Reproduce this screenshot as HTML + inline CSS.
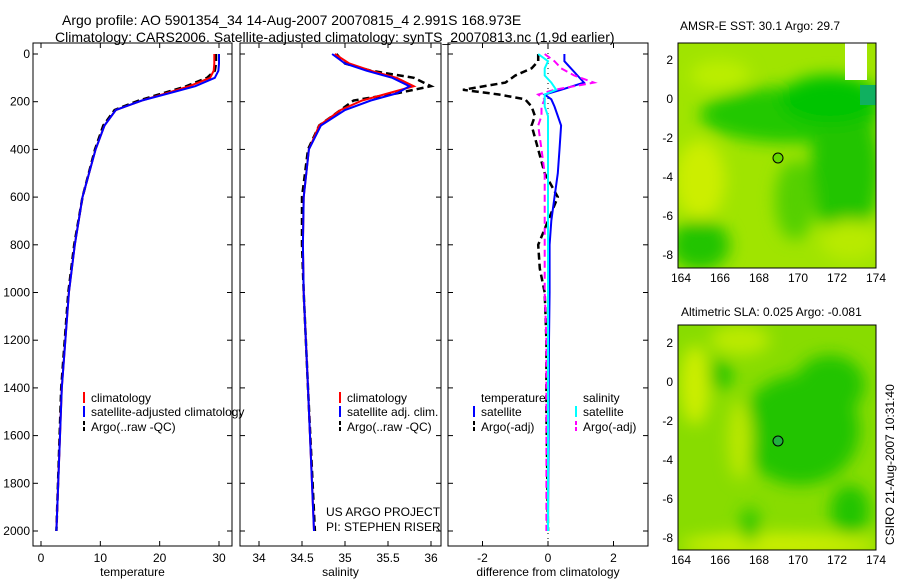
<!DOCTYPE html>
<html><head><meta charset="utf-8"><style>
body{margin:0;background:#fff;font-family:"Liberation Sans",sans-serif;}
svg text{font-family:"Liberation Sans",sans-serif;font-size:12px;fill:#000}
</style></head><body>
<svg id="s" width="900" height="580" xmlns="http://www.w3.org/2000/svg">
<defs>
<filter id="bl" x="-50%" y="-50%" width="200%" height="200%"><feGaussianBlur stdDeviation="8"/></filter>
<clipPath id="c1"><rect x="678" y="43" width="198" height="225"/></clipPath>
<clipPath id="c2"><rect x="678" y="325" width="198" height="225"/></clipPath>
</defs>
<text x="62" y="25" style="font-size:14px">Argo profile: AO 5901354_34 14-Aug-2007 20070815_4 2.991S 168.973E</text>
<text x="55" y="42" style="font-size:14px">Climatology: CARS2006. Satellite-adjusted climatology: synTS_20070813.nc (1.9d earlier)</text>
<g id="g"></g>
<g clip-path="url(#c1)">
<rect x="678" y="43" width="198" height="225" fill="#a0e400"/>
<g filter="url(#bl)">
<ellipse cx="790" cy="115" rx="90" ry="28" fill="#22c800"/>
<ellipse cx="845" cy="170" rx="35" ry="70" fill="#22c400"/>
<ellipse cx="830" cy="100" rx="50" ry="25" fill="#00c400"/>
<ellipse cx="700" cy="245" rx="30" ry="25" fill="#22c400"/>
<ellipse cx="795" cy="200" rx="20" ry="40" fill="#55d000"/>
<ellipse cx="700" cy="180" rx="25" ry="40" fill="#ccee00"/>
<ellipse cx="720" cy="75" rx="30" ry="15" fill="#bbee00"/>
<ellipse cx="850" cy="240" rx="30" ry="20" fill="#b8ea00"/>
</g>
<rect x="845" y="43" width="22" height="37" fill="#fff"/>
<rect x="860" y="85" width="16" height="20" fill="#10b060"/>
</g>
<circle cx="778" cy="158" r="5" fill="#66d800" stroke="#000"/>
<rect x="678" y="43" width="198" height="225" fill="none" stroke="#000"/>
<text x="680" y="30">AMSR-E SST: 30.1  Argo: 29.7</text>
<g clip-path="url(#c2)">
<rect x="678" y="325" width="198" height="225" fill="#88dc00"/>
<g filter="url(#bl)">
<ellipse cx="800" cy="430" rx="60" ry="55" fill="#22c400"/>
<ellipse cx="830" cy="385" rx="35" ry="30" fill="#22c400"/>
<ellipse cx="850" cy="510" rx="20" ry="25" fill="#22c400"/>
<ellipse cx="720" cy="375" rx="12" ry="15" fill="#22c400"/>
<ellipse cx="695" cy="385" rx="15" ry="40" fill="#ccee00"/>
<ellipse cx="740" cy="440" rx="12" ry="40" fill="#bbe800"/>
<ellipse cx="780" cy="545" rx="100" ry="12" fill="#ccee00"/>
<ellipse cx="740" cy="340" rx="30" ry="15" fill="#bbea00"/>
<ellipse cx="750" cy="525" rx="10" ry="18" fill="#33c800"/>
</g>
</g>
<circle cx="778" cy="441" r="5" fill="#22b040" stroke="#000"/>
<rect x="678" y="325" width="198" height="225" fill="none" stroke="#000"/>
<text x="681" y="316">Altimetric SLA: 0.025  Argo: -0.081</text>
<text transform="translate(894,545) rotate(-90)">CSIRO 21-Aug-2007 10:31:40</text>
<text x="326" y="516">US ARGO PROJECT</text>
<text x="326" y="531">PI: STEPHEN RISER</text>
</svg>
<script>
const depths=[0,40,70,100,135,165,195,235,300,400,600,800,1000,1400,2000];
const tempClim=[29.2,29.2,29.1,28.5,25,21,17,12.6,10.7,9.2,7,5.7,4.7,3.5,2.6];
const tempSat=[30,30,29.9,29.3,26,21.5,17,12.6,10.7,9.2,7,5.7,4.7,3.5,2.6];
const tempArgo=[29.5,29.5,29.3,28,24.5,20.5,16.5,12.4,10.5,9.1,7,5.6,4.6,3.4,2.6];
const salClim=[34.88,35.05,35.3,35.6,35.8,35.5,35.2,34.95,34.7,34.58,34.52,34.51,34.52,34.57,34.64];
const salSat=[34.85,35.0,35.25,35.55,35.75,35.6,35.3,35.0,34.72,34.58,34.52,34.51,34.52,34.57,34.64];
const salArgo=[34.9,35.0,35.3,35.8,36.0,35.6,35.1,34.95,34.7,34.57,34.5,34.5,34.52,34.57,34.65];
const dDepths=[0,30,60,90,120,150,170,190,220,260,300,400,500,600,700,800,900,1000,1200,1500,2000];
const dTempSat=[0.5,0.5,0.7,0.9,1.1,0.4,-0.1,0.1,0.2,0.3,0.4,0.35,0.3,0.2,0.1,0.05,0.05,0.05,0.03,0.02,0.0];
const dTempArgo=[-0.3,-0.3,-0.5,-1,-1.3,-2.6,-1.5,-0.7,-0.5,-0.4,-0.5,-0.3,-0.1,0.3,0,-0.3,-0.25,-0.1,-0.05,-0.05,0];
const dSalSat=[-0.3,0,-0.1,-0.1,0.1,0.25,-0.1,-0.1,-0.1,0,0,0,0,0,0,0,0,0,0,0,0];
const dSalArgo=[-0.1,0.2,0.4,0.8,1.4,0.2,-0.3,-0.1,-0.2,-0.2,-0.3,-0.2,-0.1,-0.1,-0.1,-0.1,-0.1,-0.1,-0.05,-0.05,-0.05];
const yTicks=[0,200,400,600,800,1000,1200,1400,1600,1800,2000];
const tTicks=[0,10,20,30], sTicks=[34,34.5,35,35.5,36], dTicks=[-2,0,2];
const sTickLabels=["34","34.5","35","35.5","36"];
const mapX=[164,166,168,170,172,174], mapY=[2,0,-2,-4,-6,-8];
const NS="http://www.w3.org/2000/svg", G=document.getElementById('g');
const Y=d=>54+d*(531-54)/2000;
function el(t,a,p){const e=document.createElementNS(NS,t);for(const k in a)e.setAttribute(k,a[k]);(p||G).appendChild(e);return e;}
function txt(x,y,s,anchor,name){const e=el('text',{x:x,y:y,'text-anchor':anchor||'start'});e.textContent=s;

return e;}
function line(xs,ys,X,col,dash,w,name){const p=el('polyline',{points:xs.map((v,i)=>X(v).toFixed(1)+','+Y(ys[i]).toFixed(1)).join(' '),fill:'none',stroke:col,'stroke-width':w||2,'stroke-dasharray':dash||''});

}
function panel(x0,x1,X,ticks,labels,xlab,showY,name){
 const r=el('rect',{x:x0,y:43,width:x1-x0,height:503,fill:'none',stroke:'#000'});
 
 
 ticks.forEach((t,i)=>{el('line',{x1:X(t),x2:X(t),y1:546,y2:541,stroke:'#000'});el('line',{x1:X(t),x2:X(t),y1:43,y2:48,stroke:'#000'});txt(X(t),562,labels[i],'middle','x-tick-label');});
 yTicks.forEach(d=>{el('line',{x1:x0,x2:x0+5,y1:Y(d),y2:Y(d),stroke:'#000'});el('line',{x1:x1,x2:x1-5,y1:Y(d),y2:Y(d),stroke:'#000'});if(showY)txt(x0-3,Y(d)+4,String(d),'end','y-tick-label');});
 txt((x0+x1)/2,576,xlab,'middle','x-axis-title');
}
const XT=v=>41+v*(219-41)/30, XS=v=>259+(v-34)*(431-259)/2, XD=v=>548+v*(614-483)/4;
panel(33,232,XT,tTicks,tTicks.map(String),'temperature',true,'temperature-panel');
panel(240,441,XS,sTicks,sTickLabels,'salinity',false,'salinity-panel');
panel(448,648,XD,dTicks,dTicks.map(String),'difference from climatology',false,'difference-panel');
line(tempArgo,depths,XT,'#000','7,4',2.5,'temp-argo-line');
line(tempClim,depths,XT,'#f00','',2,'temp-climatology-line');
line(tempSat,depths,XT,'#00f','',2,'temp-satellite-line');
line(salArgo,depths,XS,'#000','7,4',2.5,'sal-argo-line');
line(salClim,depths,XS,'#f00','',2,'sal-climatology-line');
line(salSat,depths,XS,'#00f','',2,'sal-satellite-line');
el('line',{x1:XD(0),x2:XD(0),y1:43,y2:546,stroke:'#000','stroke-dasharray':'1,4'});
line(dTempArgo,dDepths,XD,'#000','7,4',2.5,'diff-temp-argo-line');
line(dTempSat,dDepths,XD,'#00f','',2,'diff-temp-satellite-line');
line(dSalArgo,dDepths,XD,'#f0f','7,4',2,'diff-sal-argo-line');
line(dSalSat,dDepths,XD,'#0ff','',2,'diff-sal-satellite-line');
function leg(x,y,col,dash,s){el('line',{x1:x,x2:x,y1:y-10,y2:y+1,stroke:col,'stroke-width':2,'stroke-dasharray':dash});txt(x+7,y,s,'start','legend-entry');}
leg(84,402,'#f00','','climatology');leg(84,416,'#00f','','satellite-adjusted climatology');leg(84,431,'#000','4,2','Argo(..raw -QC)');
leg(340,402,'#f00','','climatology');leg(340,416,'#00f','','satellite adj. clim.');leg(340,431,'#000','4,2','Argo(..raw -QC)');
txt(481,402,'temperature','start','legend-header');txt(583,402,'salinity','start','legend-header');
leg(474,416,'#00f','','satellite');leg(474,431,'#000','4,2','Argo(-adj)');
leg(576,416,'#0ff','','satellite');leg(576,431,'#f0f','4,2','Argo(-adj)');
const MX=v=>681+(v-164)*19.5;
[[60,99],[343,382]].forEach(([y2,y0],k)=>{const MY=v=>y0-v*(y0-y2)/2, top=k?325:43, bot=k?550:268;
 mapX.forEach(v=>{el('line',{x1:MX(v),x2:MX(v),y1:bot,y2:bot-4,stroke:'#000'});txt(MX(v),bot+14,String(v),'middle','map-x-tick');});
 mapY.forEach(v=>{el('line',{x1:678,x2:682,y1:MY(v),y2:MY(v),stroke:'#000'});el('line',{x1:876,x2:872,y1:MY(v),y2:MY(v),stroke:'#000'});txt(673,MY(v)+4,String(v),'end','map-y-tick');});
});
</script>
</body></html>
